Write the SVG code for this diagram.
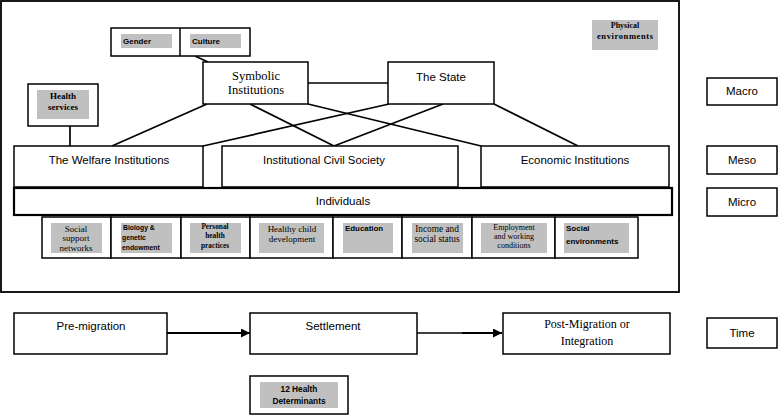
<svg xmlns="http://www.w3.org/2000/svg" width="778" height="418" viewBox="0 0 778 418">
<style>
.bx{fill:#fff;stroke:#000;stroke-width:1.5}
.thk{fill:#fff;stroke:#000;stroke-width:2.2}
.g{fill:#c0c0c0;stroke:none}
.ln{stroke:#000;stroke-width:1.7;fill:none}
.s{font-family:"Liberation Sans",Arial,sans-serif;fill:#000}
.r{font-family:"Liberation Serif","Times New Roman",serif;fill:#000}
.m{text-anchor:middle}
.b{font-weight:bold}
</style>
<defs>
<marker id="ah" markerUnits="userSpaceOnUse" markerWidth="10" markerHeight="10" refX="9" refY="4.5" orient="auto">
<path d="M0,0 L9,4.5 L0,9 z" fill="#000"/>
</marker>
</defs>
<rect x="1" y="1" width="678" height="291" fill="#fff" stroke="#000" stroke-width="1.8"/>

<g id="connectors">
<line class="ln" x1="195" y1="56" x2="208" y2="62"/>
<line class="ln" x1="308" y1="83" x2="388" y2="83"/>
<line class="ln" x1="70" y1="126" x2="70" y2="146"/>
<line class="ln" x1="207" y1="104" x2="112" y2="146"/>
<line class="ln" x1="250" y1="104" x2="334" y2="146"/>
<line class="ln" x1="308" y1="104" x2="481" y2="146"/>
<line class="ln" x1="389" y1="104" x2="203" y2="146"/>
<line class="ln" x1="443" y1="104" x2="334" y2="146"/>
<line class="ln" x1="494" y1="104" x2="578" y2="146"/>
<line x1="167" y1="333" x2="250" y2="333" stroke="#000" stroke-width="2.2" marker-end="url(#ah)"/>
<line x1="417" y1="333" x2="463" y2="333" stroke="#000" stroke-width="1.3"/>
<line x1="462" y1="333" x2="502" y2="333" stroke="#000" stroke-width="2.2" marker-end="url(#ah)"/>
</g>

<g id="gender-culture">
<rect class="bx" x="111" y="28" width="139" height="28"/>
<line x1="180" y1="28" x2="180" y2="56" stroke="#000" stroke-width="1.5"/>
<rect class="g" x="121" y="34" width="51" height="14"/>
<rect class="g" x="190" y="34" width="51" height="14"/>
<text class="s b" x="123" y="44" font-size="8">Gender</text>
<text class="s b" x="192" y="44" font-size="8">Culture</text>
</g>

<g id="physical-env">
<rect class="g" x="592" y="20" width="66" height="30"/>
<text class="r b m" x="625" y="28" font-size="8">Physical</text>
<text class="r m" x="625" y="39" font-size="8.5" font-weight="bold" textLength="56">environments</text>
</g>

<g id="symbolic">
<rect class="bx" x="203" y="62" width="105" height="42"/>
<text class="r m" x="256" y="80" font-size="12.5">Symbolic</text>
<text class="r m" x="256" y="94" font-size="12.5">Institutions</text>
</g>

<g id="state">
<rect class="bx" x="388" y="62" width="106" height="42"/>
<text class="s m" x="441" y="81" font-size="11.5">The State</text>
</g>

<g id="health-services">
<rect class="bx" x="28" y="84" width="70" height="42"/>
<rect class="g" x="37" y="90" width="52" height="29"/>
<text class="r b m" x="63" y="99" font-size="9">Health</text>
<text class="r b m" x="63" y="110" font-size="9">services</text>
</g>

<g id="welfare">
<rect class="bx" x="14" y="146" width="189" height="41"/>
<text class="s m" x="109" y="164" font-size="11.5">The Welfare Institutions</text>
</g>

<g id="civil-society">
<rect class="bx" x="222" y="146" width="236" height="41"/>
<text class="s m" x="324" y="164" font-size="11.3">Institutional Civil Society</text>
</g>

<g id="economic">
<rect class="bx" x="481" y="146" width="188" height="41"/>
<text class="s m" x="575" y="164" font-size="11.5">Economic Institutions</text>
</g>

<g id="individuals">
<rect class="thk" x="14" y="188" width="658" height="27"/>
<text class="s m" x="343" y="205" font-size="11.5">Individuals</text>
</g>

<g id="det-social-support">
<rect class="bx" x="42" y="217" width="69" height="41"/>
<rect class="g" x="51" y="223" width="51" height="30"/>
<text class="r m" x="76" y="232" font-size="9">Social</text>
<text class="r m" x="76" y="241" font-size="9">support</text>
<text class="r m" x="76" y="251" font-size="9">networks</text>
</g>

<g id="det-biology">
<rect class="bx" x="111" y="217" width="70" height="41"/>
<rect class="g" x="121" y="223" width="51" height="30"/>
<text class="s b" x="123" y="230" font-size="6.8">Biology &amp;</text>
<text class="s b" x="122" y="240" font-size="6.8">genetic</text>
<text class="s b" x="122" y="250" font-size="6.8">endowment</text>
</g>

<g id="det-personal">
<rect class="bx" x="181" y="217" width="69" height="41"/>
<rect class="g" x="190" y="223" width="51" height="30"/>
<text class="r b m" x="215" y="229" font-size="7.3">Personal</text>
<text class="r b m" x="215" y="238" font-size="7.3">health</text>
<text class="r b m" x="215" y="248" font-size="7.3">practices</text>
</g>

<g id="det-child">
<rect class="bx" x="250" y="217" width="83" height="41"/>
<rect class="g" x="259" y="223" width="65" height="30"/>
<text class="r m" x="292" y="232" font-size="9">Healthy child</text>
<text class="r m" x="292" y="242" font-size="9">development</text>
</g>

<g id="det-education">
<rect class="bx" x="333" y="217" width="69" height="41"/>
<rect class="g" x="343" y="223" width="50" height="30"/>
<text class="s b" x="345" y="231" font-size="7.9">Education</text>
</g>

<g id="det-income">
<rect class="bx" x="402" y="217" width="70" height="41"/>
<rect class="g" x="412" y="223" width="51" height="30"/>
<text class="r m" x="437" y="232" font-size="9.3">Income and</text>
<text class="r m" x="437" y="242" font-size="9.3">social status</text>
</g>

<g id="det-employment">
<rect class="bx" x="472" y="217" width="83" height="41"/>
<rect class="g" x="481" y="223" width="66" height="30"/>
<text class="r m" x="514" y="230" font-size="8">Employment</text>
<text class="r m" x="514" y="239" font-size="8">and working</text>
<text class="r m" x="514" y="248" font-size="8">conditions</text>
</g>

<g id="det-social-env">
<rect class="bx" x="555" y="217" width="83" height="41"/>
<rect class="g" x="564" y="223" width="65" height="30"/>
<text class="s b" x="566" y="231" font-size="8">Social</text>
<text class="s b" x="566" y="244" font-size="8">environments</text>
</g>

<g id="macro">
<rect class="bx" x="707" y="78" width="70" height="27" stroke-width="1.8"/>
<text class="s m" x="742" y="95" font-size="11.5">Macro</text>
</g>
<g id="meso">
<rect class="bx" x="707" y="146" width="70" height="28" stroke-width="1.8"/>
<text class="s m" x="742" y="164" font-size="11.5">Meso</text>
</g>
<g id="micro">
<rect class="bx" x="707" y="188" width="70" height="28" stroke-width="1.8"/>
<text class="s m" x="742" y="206" font-size="11.5">Micro</text>
</g>
<g id="time">
<rect class="bx" x="707" y="318" width="70" height="30" stroke-width="1.8"/>
<text class="s m" x="742" y="337" font-size="11.5">Time</text>
</g>

<g id="pre-migration">
<rect class="bx" x="14" y="313" width="153" height="41"/>
<text class="s m" x="91" y="330" font-size="11.5">Pre-migration</text>
</g>
<g id="settlement">
<rect class="bx" x="250" y="313" width="167" height="41"/>
<text class="s m" x="333" y="330" font-size="11.5">Settlement</text>
</g>
<g id="post-migration">
<rect class="bx" x="503" y="313" width="167" height="41"/>
<text class="r m" x="587" y="328" font-size="12">Post-Migration or</text>
<text class="r m" x="587" y="345" font-size="12">Integration</text>
</g>

<g id="health-determinants">
<rect class="bx" x="250" y="376" width="98" height="38"/>
<rect class="g" x="260" y="382" width="78" height="26"/>
<text class="s b m" x="299" y="392" font-size="8.3">12 Health</text>
<text class="s b m" x="299" y="404" font-size="8.3">Determinants</text>
</g>
</svg>
